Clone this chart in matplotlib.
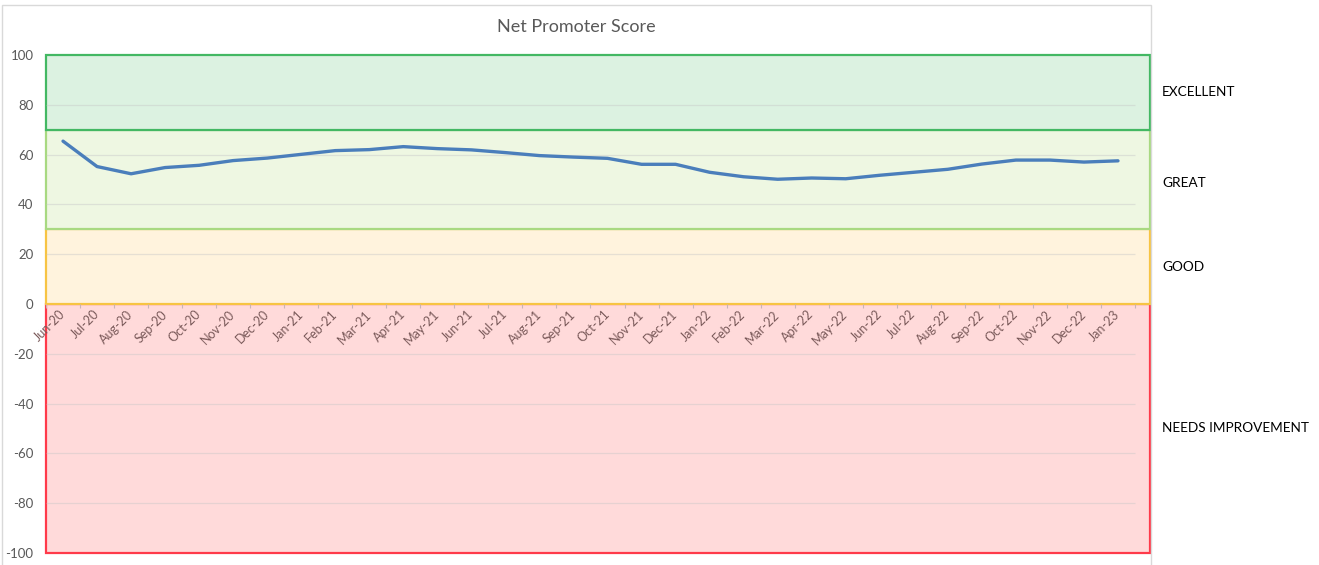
"""
Net Promoter Score by month, drawn over the rating bands
"""

import matplotlib

matplotlib.use("Agg")
import matplotlib.pyplot as plt
from matplotlib.patches import Rectangle
from matplotlib.transforms import blended_transform_factory

months = [
    "Jun-20", "Jul-20", "Aug-20", "Sep-20", "Oct-20", "Nov-20", "Dec-20",
    "Jan-21", "Feb-21", "Mar-21", "Apr-21", "May-21", "Jun-21", "Jul-21",
    "Aug-21", "Sep-21", "Oct-21", "Nov-21", "Dec-21", "Jan-22", "Feb-22",
    "Mar-22", "Apr-22", "May-22", "Jun-22", "Jul-22", "Aug-22", "Sep-22",
    "Oct-22", "Nov-22", "Dec-22", "Jan-23",
]
nps = [
    65.4, 55.2, 52.3, 54.8, 55.7, 57.6, 58.6, 60.1, 61.6, 62.0, 63.2, 62.4,
    61.9, 60.8, 59.6, 59.0, 58.5, 56.1, 56.1, 52.9, 51.1, 50.1, 50.6, 50.3,
    51.7, 52.9, 54.1, 56.2, 57.8, 57.8, 57.0, 57.5,
]

# bands listed bottom to top, so the upper band's border wins on shared edges
band_names = ["NEEDS IMPROVEMENT", "GOOD", "GREAT", "EXCELLENT"]
band_low = [-100, 0, 30, 70]
band_high = [0, 30, 70, 100]
band_fill = ["#ffdada", "#fff3dd", "#eef7e2", "#dcf2e1"]
band_edge = ["#ff3a4a", "#f7c443", "#a8d981", "#43b863"]
label_y = [-50, 15, 48.5, 85]

yticks = [100, 80, 60, 40, 20, 0, -20, -40, -60, -80, -100]

plt.rcParams["font.family"] = ["Lato", "DejaVu Sans"]
grey = "#595959"

fig = plt.figure(figsize=(13.19, 5.65), dpi=100)
W, H = 1319, 565
ax = fig.add_axes([46 / W, 1 - 553 / H, (1150 - 46) / W, (553 - 55) / H])

n = len(months)
x = list(range(n))

# chart area frame (Excel style)
fig.patches.append(
    Rectangle((2 / W, -0.05), (1151 - 2) / W, 1.05 - 5 / H,
              transform=fig.transFigure, facecolor="none",
              edgecolor="#d9d9d9", linewidth=1.0)
)

# rating bands
for lo, hi, fc, ec in zip(band_low, band_high, band_fill, band_edge):
    ax.axhspan(lo, hi, facecolor=fc, edgecolor=ec, linewidth=1.6,
               zorder=1, clip_on=False)

# gridlines only across the category range
ax.hlines([v for v in yticks if v not in (100, 0, -100)],
          -0.5, n - 0.5, color="#c8c8c8", alpha=0.45, linewidth=0.9, zorder=2)

ax.plot(x, nps, color="#4a7ebb", linewidth=2.4, zorder=4,
        solid_capstyle="round", solid_joinstyle="round")

ax.set_xlim(-0.5, n - 0.5 + 15 / 34.03)
ax.set_ylim(-100, 100)

for side in ["top", "right", "left", "bottom"]:
    ax.spines[side].set_visible(False)
ax.spines["bottom"].set_position(("data", 0))

ax.set_yticks(yticks)
ax.set_yticklabels([str(v) for v in yticks])
ax.tick_params(axis="y", length=0, pad=9, labelsize=9.5, labelcolor=grey)

# category labels at centers, tick marks at category boundaries
ax.set_xticks(x)
ax.set_xticklabels(months)
ax.set_xticks([i - 0.5 for i in range(n + 1)], minor=True)
ax.tick_params(axis="x", which="major", length=0, pad=6, labelsize=9,
               labelcolor="#7a5a5a")
ax.tick_params(axis="x", which="minor", length=3, width=0.8, color="#c9b5b5")
for lab in ax.get_xticklabels():
    lab.set_rotation(45)
    lab.set_ha("right")
    lab.set_va("center")
    lab.set_rotation_mode("anchor")

fig.text(576 / W, 1 - 27 / H, "Net Promoter Score", ha="center", va="center",
         fontsize=13, color=grey)

tr = blended_transform_factory(fig.transFigure, ax.transData)
for name, yy in zip(band_names, label_y):
    ax.text(1162 / W, yy, name, transform=tr, ha="left", va="center",
            fontsize=9.8, color="black")

fig.savefig("out.png", dpi=100)
